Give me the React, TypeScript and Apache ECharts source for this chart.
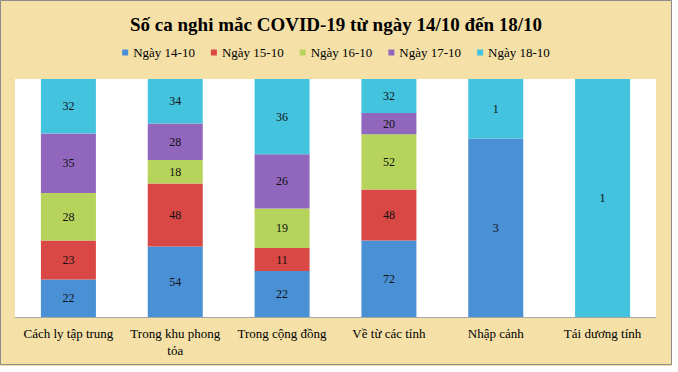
import React, { useEffect, useRef } from "react";
import * as echarts from "echarts";

const categories = [
  "Cách ly tập trung",
  "Trong khu phong\ntỏa",
  "Trong cộng đồng",
  "Về từ các tỉnh",
  "Nhập cảnh",
  "Tái dương tính",
];
const seriesNames = ["Ngày 14-10", "Ngày 15-10", "Ngày 16-10", "Ngày 17-10", "Ngày 18-10"];
const day14 = [22, 54, 22, 72, 3, 0];
const day15 = [23, 48, 11, 48, 0, 0];
const day16 = [28, 18, 19, 52, 0, 0];
const day17 = [35, 28, 26, 20, 0, 0];
const day18 = [32, 34, 36, 32, 1, 1];
const colors = ["#4A90D5", "#DA4845", "#B6D35B", "#9167BE", "#44C3DE"];

export default function App() {
  const ref = useRef<HTMLDivElement>(null);
  useEffect(() => {
    if (!ref.current) return;
    const chart = echarts.init(ref.current, undefined, { renderer: "svg" });
    const all = [day14, day15, day16, day17, day18];
    const totals = categories.map((_, i) => all.reduce((s, a) => s + a[i], 0));
    const font = "Liberation Serif";
    chart.setOption({
      animation: false,
      backgroundColor: "#F5E0A8",
      textStyle: { fontFamily: font },
      title: {
        text: "Số ca nghi mắc COVID-19 từ ngày 14/10 đến 18/10",
        left: "center",
        top: 10,
        textStyle: { fontFamily: font, fontSize: 19, fontWeight: "bold", color: "#000" },
      },
      legend: {
        data: seriesNames,
        top: 41,
        left: "center",
        icon: "rect",
        itemWidth: 6,
        itemHeight: 6,
        itemGap: 16,
        textStyle: { fontFamily: font, fontSize: 13, color: "#000" },
      },
      grid: {
        left: 15,
        right: 16,
        top: 79,
        bottom: 49,
        show: true,
        backgroundColor: "#FFFFFF",
        borderWidth: 0,
      },
      xAxis: {
        type: "category",
        data: categories,
        axisTick: { show: false },
        axisLine: { lineStyle: { color: "#A6A6A6", width: 1 } },
        axisLabel: {
          fontFamily: font,
          fontSize: 13,
          color: "#000",
          interval: 0,
          margin: 8,
          lineHeight: 17,
        },
      },
      yAxis: {
        type: "value",
        min: 0,
        max: 100,
        show: false,
        splitLine: { show: false },
      },
      graphic: [
        {
          type: "rect",
          shape: { x: 0.5, y: 0.5, width: 671, height: 364 },
          style: { fill: "none", stroke: "#8C8C8C", lineWidth: 1 },
          silent: true,
        },
      ],
      series: all.map((arr, si) => ({
        name: seriesNames[si],
        type: "bar",
        stack: "total",
        barWidth: 55,
        itemStyle: { color: colors[si] },
        label: {
          show: true,
          position: "inside",
          fontFamily: font,
          fontSize: 12,
          color: "#111",
          formatter: (p: any) => String(arr[p.dataIndex]),
        },
        data: arr.map((v, i) => (v === 0 ? null : (v / totals[i]) * 100)),
      })),
    });
    return () => chart.dispose();
  }, []);
  return (
    <div
      style={{ position: "fixed", left: 0, top: 0, width: 678, height: 372, background: "#fff" }}
    >
      <div ref={ref} style={{ width: 672, height: 366 }} />
    </div>
  );
}
